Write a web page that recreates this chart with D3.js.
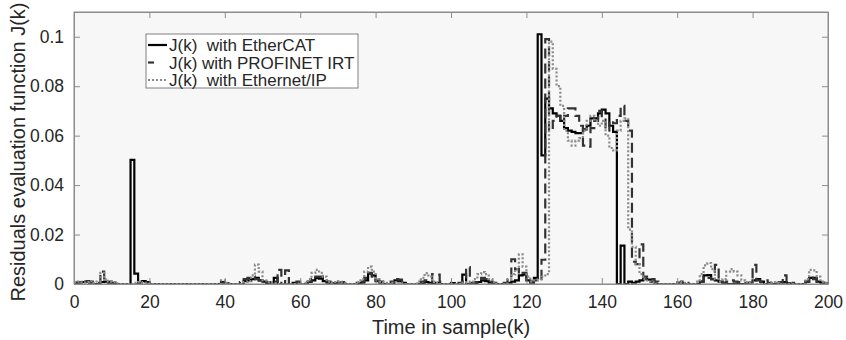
<!DOCTYPE html>
<html>
<head>
<meta charset="utf-8">
<script src="https://cdn.jsdelivr.net/npm/d3@7"></script>
<style>
  body { margin: 0; background: #fff; }
  text { font-family: "Liberation Sans", Arial, sans-serif; }
</style>
</head>
<body>
<div id="chart"></div>
<script>
const width = 846, height = 340;
const margin = {top: 12, right: 18, bottom: 56, left: 74};

// sample index k = 0..200
const samples = d3.range(0, 201);

// J(k) with EtherCAT
const etherCAT = [
  0.0005, 0.0005, 0.0008, 0.001, 0.0005, 0, 0, 0.0008, 0.001, 0.0005,          // 0
  0, 0, 0, 0, 0, 0.0502, 0.0042, 0, 0.0012, 0.0008,                             // 10
  0, 0, 0, 0, 0, 0, 0, 0, 0, 0,                                                  // 20
  0, 0, 0, 0, 0, 0, 0, 0, 0, 0.0008,                                             // 30
  0.0003, 0, 0, 0, 0, 0.0012, 0.0015, 0.002, 0.0025, 0.0015,                     // 40
  0.001, 0, 0.0005, 0.0025, 0, 0, 0, 0, 0.0005, 0,                               // 50
  0, 0, 0.0008, 0.0015, 0.0024, 0.0022, 0.0012, 0.0005, 0, 0.0003,               // 60
  0.0005, 0, 0, 0, 0, 0, 0.0005, 0.0015, 0.0042, 0.0035,                         // 70
  0.0012, 0.0005, 0, 0, 0, 0.0015, 0.0012, 0.0005, 0, 0,                         // 80
  0, 0, 0, 0.0008, 0.0005, 0, 0.0005, 0, 0, 0,                                   // 90
  0.0004, 0, 0, 0.0038, 0, 0, 0.0003, 0.0008, 0.0015, 0.0012,                    // 100
  0.0005, 0, 0, 0, 0, 0.0005, 0.001, 0.0015, 0.0035, 0.0038,                     // 110
  0.0015, 0.0005, 0.0025, 0.101, 0.052, 0.075, 0.071, 0.069, 0.068, 0.066,       // 120
  0.063, 0.062, 0.0615, 0.061, 0.061, 0.0625, 0.064, 0.067, 0.067, 0.069,        // 130
  0.0705, 0.069, 0.064, 0.0615, 0, 0.0155, 0, 0.001, 0.0005, 0.001,              // 140
  0.0015, 0.002, 0.0018, 0.001, 0, 0, 0, 0, 0, 0,                                // 150
  0.0005, 0.0003, 0, 0, 0, 0, 0.001, 0.0035, 0.0036, 0.002,                      // 160
  0.0015, 0.001, 0.0005, 0, 0, 0, 0, 0, 0, 0.0005,                               // 170
  0.0015, 0.002, 0.001, 0, 0, 0, 0, 0.0005, 0.0008, 0.0003,                      // 180
  0, 0, 0, 0, 0.001, 0.0025, 0.0025, 0.001, 0.0005, 0.0003,                      // 190
  0                                                                              // 200
];

// J(k) with PROFINET IRT
const profinet = [
  0.0005, 0.0008, 0.0005, 0.0012, 0.001, 0.0003, 0.0005, 0.005, 0.0012, 0.001,  // 0
  0.0005, 0, 0, 0, 0, 0, 0, 0.0005, 0.001, 0.0005,                               // 10
  0, 0, 0, 0, 0, 0, 0, 0, 0, 0,                                                  // 20
  0, 0, 0, 0, 0, 0, 0, 0, 0, 0.0005,                                             // 30
  0, 0, 0, 0, 0.0008, 0.002, 0.0025, 0.003, 0.002, 0.0015,                       // 40
  0.001, 0.0008, 0, 0.001, 0.0057, 0, 0.0055, 0, 0, 0.001,                       // 50
  0, 0, 0.001, 0.002, 0.003, 0.003, 0.0015, 0.001, 0.0005, 0.001,                // 60
  0.0005, 0.0008, 0, 0, 0, 0.0005, 0.001, 0.0025, 0.0045, 0.003,                 // 70
  0.0015, 0.001, 0.0005, 0, 0.001, 0.002, 0.0018, 0.0005, 0, 0,                  // 80
  0, 0.0005, 0.001, 0.0015, 0.001, 0.004, 0.0038, 0.001, 0, 0,                   // 90
  0.0005, 0, 0.0005, 0.001, 0.0068, 0.0005, 0.0008, 0.0015, 0.0025, 0.002,       // 100
  0.001, 0.0005, 0, 0, 0.0005, 0.0025, 0.01, 0.006, 0.004, 0.0045,               // 110
  0.002, 0.001, 0.0015, 0.002, 0.0098, 0.099, 0.062, 0.066, 0.068, 0.066,        // 120
  0.068, 0.071, 0.071, 0.068, 0.064, 0.056, 0.0555, 0.063, 0.066, 0.07,          // 130
  0.067, 0.062, 0.066, 0.065, 0.068, 0.072, 0.066, 0.062, 0.009, 0.008,          // 140
  0.016, 0.003, 0.0025, 0.002, 0.001, 0.0005, 0, 0, 0, 0,                        // 150
  0.0005, 0.001, 0.0005, 0, 0, 0, 0.001, 0.003, 0.0025, 0.002,                   // 160
  0.0077, 0.001, 0.0005, 0.001, 0.0015, 0.001, 0.0008, 0.0005, 0, 0.0005,        // 170
  0.0077, 0.0015, 0.001, 0.0015, 0.0005, 0, 0.0005, 0.0008, 0.0035, 0.0008,      // 180
  0.0005, 0, 0, 0, 0.001, 0.003, 0.002, 0.001, 0.0005, 0,                        // 190
  0                                                                              // 200
];

// J(k) with Ethernet/IP
const ethernetIP = [
  0.0008, 0.001, 0.0005, 0.0008, 0.0012, 0.0005, 0.001, 0.0045, 0.002, 0.001,   // 0
  0.0008, 0.0003, 0, 0, 0, 0, 0.0005, 0.0008, 0.0005, 0,                         // 10
  0, 0, 0, 0, 0, 0, 0, 0, 0, 0,                                                  // 20
  0, 0, 0, 0, 0, 0, 0, 0, 0, 0.0015,                                             // 30
  0.0005, 0, 0, 0, 0, 0.0008, 0.0012, 0.0035, 0.0078, 0.005,                     // 40
  0.0015, 0.0008, 0.0005, 0.0003, 0, 0, 0, 0, 0, 0,                              // 50
  0, 0.0005, 0.002, 0.0045, 0.0057, 0.0045, 0.003, 0.001, 0.0005, 0.0008,        // 60
  0.001, 0.0005, 0, 0, 0, 0.0008, 0.002, 0.005, 0.007, 0.005,                    // 70
  0.002, 0.001, 0.0005, 0, 0.0005, 0.0008, 0.0005, 0, 0, 0,                      // 80
  0, 0.001, 0.0025, 0.0044, 0.003, 0.001, 0.0005, 0, 0, 0,                       // 90
  0, 0, 0, 0.0005, 0.0008, 0.001, 0.002, 0.004, 0.0048, 0.004,                   // 100
  0.002, 0.0008, 0, 0, 0, 0.002, 0.004, 0.006, 0.012, 0.007,                     // 110
  0.003, 0.001, 0.0015, 0.002, 0.003, 0.004, 0.098, 0.087, 0.08, 0.072,          // 120
  0.062, 0.058, 0.056, 0.058, 0.059, 0.062, 0.066, 0.068, 0.066, 0.064,          // 130
  0.066, 0.06, 0.055, 0.054, 0.062, 0.066, 0.067, 0.022, 0.015, 0.008,           // 140
  0.004, 0.002, 0.001, 0.0008, 0, 0, 0, 0, 0, 0,                                 // 150
  0.0008, 0.0005, 0, 0, 0, 0.001, 0.004, 0.0075, 0.0085, 0.006,                  // 160
  0.002, 0.001, 0.002, 0.005, 0.006, 0.005, 0.0035, 0.0015, 0.0008, 0.0005,      // 170
  0, 0, 0, 0, 0, 0.0008, 0.0005, 0, 0, 0,                                        // 180
  0, 0, 0, 0, 0.002, 0.0057, 0.0055, 0.003, 0.001, 0.0005,                       // 190
  0                                                                              // 200
];

const xTicks = [0, 20, 40, 60, 80, 100, 120, 140, 160, 180, 200];
const yTicks = [0, 0.02, 0.04, 0.06, 0.08, 0.1];

const seriesNames = ["J(k)  with EtherCAT", "J(k) with PROFINET IRT", "J(k)  with Ethernet/IP"];

const styles = [
  {color: "#000000", width: 2.2, dash: null},
  {color: "#333333", width: 2.2, dash: "10,5"},
  {color: "#8a8a8a", width: 2.2, dash: "2,2"}
];

const innerW = width - margin.left - margin.right;
const innerH = height - margin.top - margin.bottom;

let svg = d3.select("#chart")
    .append("svg")
    .attr("width", width)
    .attr("height", height);

let g = svg.append("g")
    .attr("transform", `translate(${margin.left}, ${margin.top})`);

let x = d3.scaleLinear().domain([0, 200]).range([0, innerW]);
let y = d3.scaleLinear().domain([0, 0.11]).range([innerH, 0]);

// plot background
g.append("rect")
    .attr("width", innerW)
    .attr("height", innerH)
    .attr("fill", "#f7f7f7");

svg.append("clipPath").attr("id", "clip")
  .append("rect")
    .attr("x", -2).attr("y", -2)
    .attr("width", innerW + 4)
    .attr("height", innerH + 2);

let line = d3.line()
    .x((d, i) => x(samples[i]))
    .y(d => y(d))
    .curve(d3.curveStepAfter);

let plot = g.append("g").attr("clip-path", "url(#clip)");

[etherCAT, profinet, ethernetIP].forEach(function(vals, i) {
  plot.append("path")
      .datum(vals)
      .attr("fill", "none")
      .attr("stroke", styles[i].color)
      .attr("stroke-width", styles[i].width)
      .attr("stroke-dasharray", styles[i].dash)
      .attr("d", line);
});

// axes (ticks point inward, MATLAB style)
const axisColor = "#8c8c8c";
const labelColor = "#262626";

let xAxis = g.append("g")
    .attr("transform", `translate(0, ${innerH})`)
    .call(d3.axisBottom(x).tickValues(xTicks).tickSizeInner(-6).tickSizeOuter(0).tickPadding(12));
let xTop = g.append("g")
    .call(d3.axisTop(x).tickValues(xTicks).tickSizeInner(-6).tickSizeOuter(0).tickFormat(""));
let yAxis = g.append("g")
    .call(d3.axisLeft(y).tickValues(yTicks).tickSizeInner(-6).tickSizeOuter(0).tickPadding(10)
      .tickFormat(d => d === 0 ? "0" : d3.format("")(+d.toFixed(2))));
let yRight = g.append("g")
    .attr("transform", `translate(${innerW}, 0)`)
    .call(d3.axisRight(y).tickValues(yTicks).tickSizeInner(-6).tickSizeOuter(0).tickFormat(""));

[xAxis, xTop, yAxis, yRight].forEach(function(a) {
  a.selectAll("path, line").attr("stroke", axisColor);
  a.selectAll("text")
      .attr("fill", labelColor)
      .style("font-size", "17.5px");
});

g.append("rect")
    .attr("width", innerW)
    .attr("height", innerH)
    .attr("fill", "none")
    .attr("stroke", axisColor)
    .attr("stroke-width", 1);

// axis labels
svg.append("text")
    .attr("x", margin.left + innerW / 2)
    .attr("y", 334)
    .attr("text-anchor", "middle")
    .attr("fill", labelColor)
    .style("font-size", "20px")
    .text("Time in sample(k)");

svg.append("text")
    .attr("transform", `translate(25, 152) rotate(-90)`)
    .attr("text-anchor", "middle")
    .attr("fill", labelColor)
    .style("font-size", "20px")
    .text("Residuals evaluation function J(k)");

// legend
let legend = svg.append("g").attr("transform", "translate(146, 34)");
legend.append("rect")
    .attr("width", 212)
    .attr("height", 54)
    .attr("fill", "#ffffff")
    .attr("stroke", "#808080")
    .attr("stroke-width", 1);

seriesNames.forEach(function(name, i) {
  let yy = 11 + i * 17.5;
  legend.append("line")
      .attr("x1", 2).attr("x2", i === 1 ? 8 : 21)
      .attr("y1", yy).attr("y2", yy)
      .attr("stroke", styles[i].color)
      .attr("stroke-width", styles[i].width)
      .attr("stroke-dasharray", i === 1 ? null : styles[i].dash);
  legend.append("text")
      .attr("x", 23)
      .attr("y", yy + 6)
      .attr("fill", labelColor)
      .style("font-size", "17px")
      .style("white-space", "pre")
      .attr("xml:space", "preserve")
      .text(name);
});
</script>
</body>
</html>
